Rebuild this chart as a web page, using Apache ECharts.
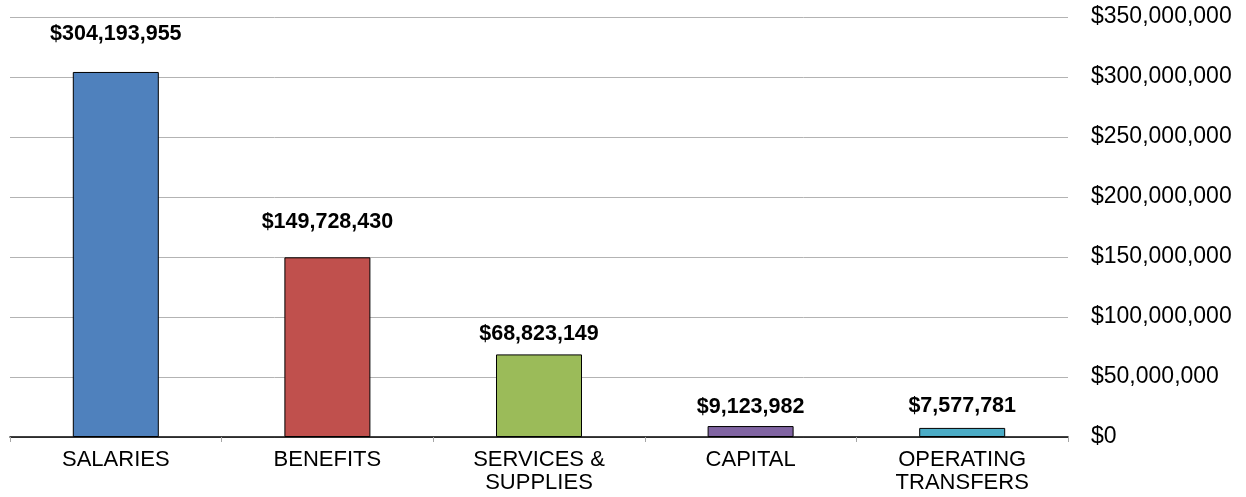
<!DOCTYPE html>
<html><head><meta charset="utf-8">
<script src="https://cdn.jsdelivr.net/npm/echarts@6/dist/echarts.min.js"></script>
<style>html,body{margin:0;padding:0;background:#fff}#c{width:1246px;height:497px}</style>
</head><body><div id="c"></div>
<script>
const categories = ['SALARIES', 'BENEFITS', 'SERVICES &\nSUPPLIES', 'CAPITAL', 'OPERATING\nTRANSFERS'];
const values = [304193955, 149728430, 68823149, 9123982, 7577781];
const colors = ['#4F81BD', '#C0504D', '#9BBB59', '#8064A2', '#4BACC6'];
const labelDistances = [27, 24, 9, 8, 11];

function money(v) { return '$' + Math.round(v).toString().replace(/\B(?=(\d{3})+(?!\d))/g, ','); }

const chart = echarts.init(document.getElementById('c'));
chart.setOption({
  animation: false,
  grid: { left: 10, right: 178, top: 17, bottom: 60, containLabel: false },
  xAxis: {
    type: 'category', data: categories,
    axisLine: { lineStyle: { color: '#000', width: 1.5 } },
    axisTick: { show: true, length: 5, lineStyle: { color: '#a6a6a6' } },
    axisLabel: { color: '#000', fontFamily: 'Liberation Sans, Arial', fontSize: 22, lineHeight: 23, margin: 11, interval: 0 }
  },
  yAxis: {
    type: 'value', position: 'right', min: 0, max: 350000000, interval: 50000000,
    axisLine: { show: false }, axisTick: { show: false },
    splitLine: { lineStyle: { color: '#b3b3b3', width: 1 } },
    axisLabel: { color: '#000', fontFamily: 'Liberation Sans, Arial', fontSize: 23, margin: 23, formatter: money }
  },
  series: [{
    type: 'bar', barWidth: 86,
    data: values.map((v, i) => ({
      value: v,
      itemStyle: { color: colors[i], borderColor: '#000', borderWidth: 1 },
      label: { distance: labelDistances[i] }
    })),
    label: {
      show: true, position: 'top', color: '#000', fontWeight: 'bold',
      fontFamily: 'Liberation Sans, Arial', fontSize: 21.5,
      formatter: p => money(p.value)
    }
  }]
});
</script></body></html>
